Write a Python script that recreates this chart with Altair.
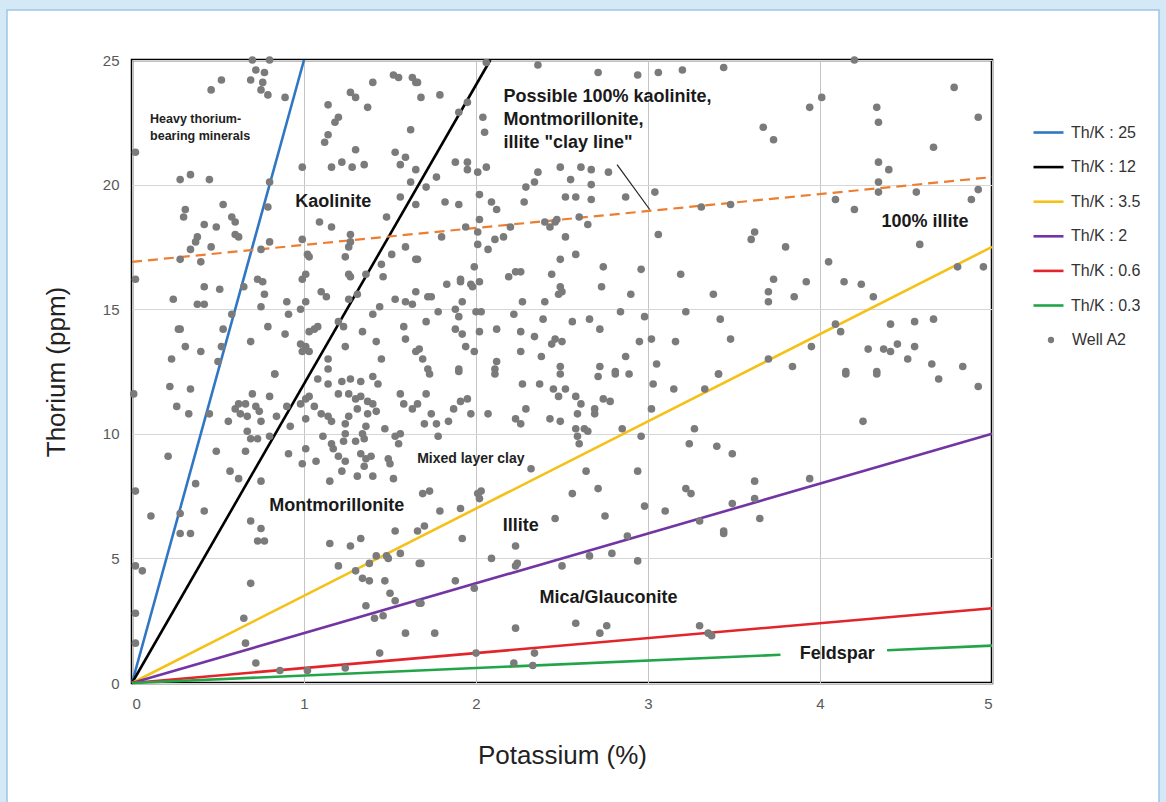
import altair as alt
import pandas as pd

# ---------------- data ----------------
ratio_names = ["Th/K : 25", "Th/K : 12", "Th/K : 3.5", "Th/K : 2", "Th/K : 0.6", "Th/K : 0.3"]
ratio_values = [25, 12, 3.5, 2, 0.6, 0.3]
ratio_colors = ["#2f77c4", "#000000", "#f6c117", "#7335a4", "#e2242b", "#22a548"]
feldspar_gap = [3.77, 4.39]

clay_k = [0.0, 5.0]
clay_th = [16.9, 20.3]
leader_k = [2.82, 3.01]
leader_th = [20.8, 19.0]

well_k = [
    0.70, 0.80, 0.52, 0.46, 0.69, 0.72, 0.77, 0.76, 0.75, 0.79, 0.89, 0.34, 0.28, 0.45, 0.02, 0.80,
    0.79, 0.31, 0.53, 0.99, 1.16, 1.22, 1.28, 1.35, 1.30, 1.14, 1.20, 1.18, 1.14, 1.12, 1.27, 1.30,
    1.37, 1.40, 1.52, 1.55, 1.63, 1.65, 1.62, 1.53, 1.59, 1.56, 1.65, 1.62, 1.56, 1.65,
    2.06, 2.36, 2.71, 2.94, 3.06, 3.20, 1.66, 1.68, 1.79, 1.90, 1.95, 2.04, 2.05, 1.88, 1.95, 1.95,
    2.01, 2.06, 1.77, 1.71, 1.82, 1.90, 2.02, 2.09, 2.12, 2.28, 2.29, 2.34, 2.36, 2.49, 2.55, 2.61,
    2.67, 2.77, 2.67, 2.52, 2.58, 2.67, 2.87, 3.04, 3.31,
    3.44, 4.20, 3.94, 4.01, 3.67, 3.73, 4.33, 4.34, 4.78, 4.92, 4.66, 4.34, 4.40, 4.34, 4.34, 4.56,
    4.92, 4.09, 4.20, 3.48, 4.88,
    0.30, 0.42, 0.49, 0.58, 0.60, 0.60, 0.62, 0.38, 0.37, 0.34, 0.46, 0.28, 0.40, 0.02, 0.75, 0.80,
    0.99, 1.02, 1.03, 1.09, 1.16, 1.24, 1.26, 1.27, 1.27, 1.26, 1.27, 1.36, 1.45, 1.46, 1.51, 1.48,
    1.59, 1.65, 0.42, 0.51, 0.65, 0.73, 0.76, 0.77, 0.24, 0.38, 0.42, 0.75, 0.90, 0.91, 0.58, 0.99,
    1.01, 0.98, 1.01, 1.10, 1.13, 1.20, 1.26, 1.31, 1.40, 1.44, 1.53, 1.59, 1.63, 1.65, 0.27, 0.28,
    0.53, 0.79, 0.89, 0.69, 1.06, 1.08, 1.03, 1.23, 1.34, 1.58, 1.59, 1.42, 0.31, 0.40, 0.23, 0.52,
    0.50, 0.98, 1.01, 1.03, 0.99, 1.24, 1.14, 1.45, 1.65, 1.14, 0.83,
    2.02, 2.01, 2.01, 1.94, 1.80, 2.07, 2.11, 2.16, 2.20, 2.40, 2.43, 2.46, 2.47, 2.60, 2.65, 2.52,
    2.58, 2.49, 2.44, 2.74, 2.73, 2.96, 3.06, 3.19, 1.66, 1.99, 2.19, 2.23, 2.26, 1.83, 1.91, 1.91,
    1.97, 1.98, 2.02, 1.72, 1.74, 1.92, 2.49, 2.50, 2.48, 2.90, 2.27, 2.40, 1.78, 1.88, 1.90, 2.00,
    2.03, 2.22, 2.39, 2.56, 2.66, 2.84, 2.98, 3.22, 1.71, 1.88, 1.92, 2.02, 2.12, 2.26, 2.34, 2.44,
    2.46, 2.50, 2.72, 1.94, 1.99, 2.26, 2.38, 1.67, 1.69, 1.72, 1.90, 2.12, 2.11, 2.49, 2.72, 2.81,
    2.87, 2.95, 3.02, 3.16, 3.05,
    3.62, 3.60, 3.80, 4.05, 4.58, 3.73, 3.70, 3.70, 3.38, 3.85, 3.92, 4.14, 4.24, 4.31, 4.80, 4.95,
    3.42, 3.48, 3.95, 4.09, 4.12, 4.41, 4.55, 4.66, 3.70, 3.84, 4.28, 4.37, 4.41, 4.45, 4.55, 4.51,
    4.65, 4.83, 3.41, 4.15, 4.33,
    0.22, 0.34, 0.26, 0.33, 0.45, 0.01, 0.83, 0.70, 0.80, 0.62, 0.66, 0.72, 0.60, 0.74, 0.63, 0.67,
    0.56, 0.84, 0.90, 0.92, 0.75, 0.67, 0.69, 0.73, 0.80, 1.01, 1.03, 0.98, 1.06, 1.10, 1.14, 1.01,
    1.08, 1.14, 1.22, 1.27, 1.33, 1.40, 1.43, 1.20, 1.26, 1.30, 1.33, 1.37, 1.40, 1.42, 1.31, 1.37,
    1.26, 1.24, 1.16, 1.56, 1.58, 1.63, 1.47, 1.36, 1.34, 1.35, 1.24, 1.11, 1.16, 1.17, 1.23, 1.30,
    1.53, 1.56, 1.55, 0.91, 1.01, 1.07, 0.99, 1.20, 1.24, 1.33, 1.36, 1.39, 1.35, 1.22, 1.31, 1.40,
    1.52, 1.49, 1.50, 0.21, 0.49, 0.66, 0.57, 0.62, 0.37, 0.02, 1.15, 0.75, 0.11, 0.28, 0.42, 0.69,
    0.75,
    1.73, 1.90, 2.11, 2.49, 2.71, 2.81, 2.89, 1.71, 1.66, 1.74, 1.70, 1.77, 1.84, 1.87, 1.91, 1.95,
    1.97, 1.78, 2.07, 2.27, 2.37, 2.45, 2.48, 2.52, 2.58, 2.61, 2.69, 2.69, 2.74, 2.78, 2.29, 2.23,
    2.26, 2.43, 2.49, 2.59, 2.58, 2.59, 2.60, 2.63, 2.65, 2.85, 2.96, 3.03, 3.15, 3.33, 3.02, 3.27,
    3.24, 2.64, 2.94, 2.32, 2.71, 2.56, 2.98, 3.10, 3.22, 3.25, 2.75, 2.46, 2.01, 2.02, 2.03, 1.69,
    1.73, 1.79, 1.91, 1.70, 3.30,
    3.41, 4.15, 4.33, 4.69, 4.92, 4.25, 3.40, 3.49, 3.62, 3.94, 3.49, 3.62, 3.65, 3.44,
    0.28, 0.34, 0.73, 0.77, 0.02, 0.06, 0.69, 0.02, 0.65, 0.02, 0.66, 0.72, 0.86, 1.02, 1.24, 1.15,
    1.27, 1.33, 1.53, 1.20, 1.38, 1.42, 1.48, 1.49, 1.56, 1.66, 1.30, 1.34, 1.38, 1.47, 1.50, 1.53,
    1.36, 1.41, 1.46, 1.59, 1.44, 1.67, 1.67,
    1.92, 2.23, 1.68, 2.09, 2.24, 2.23, 1.88, 1.99, 1.68, 2.50, 2.66, 2.79, 2.88, 2.94, 1.76, 2.23,
    2.58, 2.72, 2.76, 3.30, 3.35, 2.00, 2.34, 2.22, 2.33, 3.37, 3.44,
]
well_th = [
    25.0, 25.0, 24.2, 23.8, 24.2, 24.6, 24.5, 24.1, 23.8, 23.6, 23.5, 20.4, 20.2, 20.2, 21.3, 20.1,
    19.1, 19.0, 19.2, 20.7, 20.7, 20.9, 20.7, 20.8, 21.4, 23.2, 22.7, 22.5, 22.0, 21.7, 23.7, 23.5,
    23.1, 24.1, 24.4, 24.3, 24.3, 24.1, 22.2, 21.3, 21.1, 20.8, 20.6, 20.1, 19.5, 19.2,
    24.9, 24.8, 24.5, 24.4, 24.5, 24.6, 24.1, 23.5, 23.6, 22.9, 23.3, 22.7, 22.1, 20.9, 20.9, 20.6,
    20.5, 20.7, 20.3, 19.9, 19.3, 19.2, 19.6, 19.3, 19.0, 19.3, 19.9, 20.1, 20.5, 20.7, 20.2, 20.7,
    20.6, 20.5, 20.0, 19.5, 19.5, 19.4, 19.5, 19.7, 19.1,
    24.7, 25.0, 23.1, 23.5, 22.3, 21.8, 23.1, 22.5, 23.9, 22.7, 21.5, 20.9, 20.6, 20.1, 19.7, 19.7,
    19.8, 19.4, 19.0, 19.2, 19.4,
    18.7, 18.4, 18.3, 18.7, 18.5, 18.0, 17.9, 17.9, 17.7, 17.4, 17.5, 17.0, 16.9, 16.2, 17.4, 17.7,
    17.8, 17.2, 17.1, 18.5, 18.3, 17.1, 17.5, 18.0, 17.7, 16.4, 16.3, 16.4, 16.8, 16.3, 17.2, 18.7,
    17.5, 17.0, 15.9, 15.8, 15.9, 16.2, 16.1, 15.6, 15.4, 15.2, 15.2, 15.1, 15.3, 14.8, 14.8, 16.2,
    16.4, 15.0, 15.3, 15.7, 15.5, 14.5, 15.4, 15.6, 14.8, 15.1, 15.4, 15.3, 15.2, 15.7, 14.2, 14.2,
    14.2, 14.3, 14.0, 13.7, 14.2, 14.3, 14.1, 14.3, 14.1, 14.3, 13.8, 13.7, 13.5, 13.3, 13.0, 13.5,
    12.9, 13.6, 13.5, 13.3, 13.3, 13.5, 13.0, 13.0, 13.3, 12.6, 12.4,
    18.6, 18.1, 17.6, 18.3, 17.9, 17.4, 17.8, 17.9, 18.3, 18.5, 18.3, 18.5, 18.6, 18.7, 18.4, 17.9,
    17.2, 17.0, 16.4, 16.7, 15.9, 16.6, 18.0, 16.4, 17.0, 16.7, 16.3, 16.5, 16.5, 16.0, 16.2, 16.1,
    16.0, 15.9, 16.1, 15.5, 15.5, 15.3, 15.9, 15.7, 15.6, 15.6, 15.3, 15.3, 14.9, 15.0, 14.7, 14.9,
    14.9, 14.8, 14.6, 14.5, 14.6, 14.9, 14.7, 14.9, 14.5, 14.2, 14.0, 14.1, 14.2, 14.1, 13.9, 13.6,
    13.8, 13.7, 14.2, 13.5, 13.3, 13.3, 13.1, 13.4, 13.0, 12.6, 12.6, 12.9, 12.6, 12.7, 12.7, 12.5,
    13.1, 13.7, 13.8, 13.7, 12.8,
    18.1, 17.8, 17.5, 16.9, 17.6, 16.2, 15.7, 15.3, 15.6, 15.5, 16.1, 16.1, 16.0, 15.5, 16.7, 16.7,
    14.6, 13.8, 13.5, 14.4, 14.1, 14.4, 14.5, 14.6, 13.0, 12.7, 13.4, 13.4, 13.3, 13.6, 13.5, 13.0,
    12.8, 12.7, 12.4, 12.5, 12.5,
    11.9, 11.8, 11.1, 10.8, 10.8, 11.6, 12.4, 11.6, 11.5, 11.2, 11.2, 11.1, 11.0, 10.9, 10.8, 10.7,
    10.5, 10.7, 11.1, 10.3, 10.5, 10.1, 9.8, 9.8, 9.9, 11.4, 11.5, 11.2, 11.1, 10.8, 10.7, 10.6,
    12.2, 12.0, 12.1, 12.2, 12.1, 12.3, 12.0, 11.6, 11.6, 11.4, 11.5, 11.3, 11.2, 10.9, 11.0, 10.8,
    10.7, 10.4, 10.5, 11.6, 11.2, 11.0, 10.2, 10.3, 10.0, 9.8, 10.0, 9.9, 9.6, 9.4, 9.7, 9.7,
    9.9, 10.0, 9.6, 9.2, 9.4, 8.9, 8.8, 9.1, 8.9, 9.2, 9.0, 9.1, 8.7, 8.5, 8.3, 8.3,
    8.2, 9.0, 8.8, 9.1, 9.3, 9.3, 8.5, 8.2, 8.0, 7.7, 8.1, 8.1, 6.7, 6.8, 6.9, 6.5,
    6.2,
    12.4, 12.5, 12.4, 12.4, 12.3, 12.4, 12.4, 11.6, 11.2, 10.8, 10.4, 10.4, 10.5, 11.0, 11.3, 11.4,
    10.8, 9.9, 10.8, 12.0, 12.0, 11.8, 11.5, 11.8, 11.5, 11.2, 11.0, 10.8, 11.4, 11.3, 11.0, 10.6,
    10.4, 10.6, 10.5, 10.8, 10.2, 9.9, 9.6, 10.2, 10.1, 10.2, 9.9, 12.0, 11.8, 11.8, 11.0, 10.2,
    9.6, 8.5, 8.5, 8.6, 7.8, 7.6, 7.1, 6.9, 7.8, 7.6, 6.7, 6.6, 7.6, 7.4, 7.7, 7.6,
    7.7, 6.9, 7.0, 6.3, 6.5,
    12.4, 12.4, 12.4, 12.2, 11.9, 10.5, 9.5, 9.2, 8.1, 8.2, 7.2, 7.4, 6.6, 6.1,
    6.0, 6.0, 5.7, 5.7, 4.7, 4.5, 4.0, 2.8, 2.6, 1.6, 1.6, 0.8, 0.5, 0.5, 0.6, 5.6,
    5.5, 5.8, 6.1, 4.7, 4.8, 5.1, 5.1, 5.0, 5.2, 6.1, 4.5, 4.2, 4.1, 4.1, 3.6, 3.3,
    3.1, 2.6, 2.7, 2.0, 1.2, 4.8, 3.2,
    5.8, 5.5, 4.8, 5.0, 4.8, 4.7, 4.1, 3.8, 3.2, 4.7, 5.1, 5.2, 5.9, 4.9, 2.0, 2.2,
    2.4, 2.0, 2.3, 2.3, 2.0, 1.2, 1.2, 0.8, 0.7, 1.9, 6.0,
]

label_text = ["Kaolinite", "100% illite", "Montmorillonite", "Illite", "Mica/Glauconite", "Feldspar"]
label_k = [1.17, 4.61, 1.19, 2.26, 2.77, 4.10]
label_th = [19.3, 18.5, 7.1, 6.3, 3.4, 1.16]

note_text = ["Possible 100% kaolinite,", "Montmorillonite,", "illite \"clay line\""]
note_k = [2.16, 2.16, 2.16]
note_th = [23.52, 22.6, 21.67]

small_text = ["Heavy thorium-", "bearing minerals", "Mixed layer clay"]
small_k = [0.105, 0.105, 1.97]
small_th = [22.63, 21.95, 9.0]
small_align = ["left", "left", "center"]

x_ticks = [0, 1, 2, 3, 4, 5]
y_ticks = [0, 5, 10, 15, 20, 25]

FONT = "Liberation Sans"

# ---------------- tables ----------------
rows = []
for name, r in zip(ratio_names, ratio_values):
    x_end = min(5.0, 25.0 / r)
    if name == "Th/K : 0.3":
        rows += [
            dict(name=name, seg=name + "a", k=0.0, th=0.0),
            dict(name=name, seg=name + "a", k=feldspar_gap[0], th=r * feldspar_gap[0]),
            dict(name=name, seg=name + "b", k=feldspar_gap[1], th=r * feldspar_gap[1]),
            dict(name=name, seg=name + "b", k=x_end, th=r * x_end),
        ]
    else:
        rows += [
            dict(name=name, seg=name, k=0.0, th=0.0),
            dict(name=name, seg=name, k=x_end, th=r * x_end),
        ]
lines_df = pd.DataFrame(rows)
clay_df = pd.DataFrame({"k": clay_k, "th": clay_th})
leader_df = pd.DataFrame({"k": leader_k, "th": leader_th})
well_df = pd.DataFrame({"k": well_k, "th": well_th, "src": "Well A2"})
label_df = pd.DataFrame({"t": label_text, "k": label_k, "th": label_th})
note_df = pd.DataFrame({"t": note_text, "k": note_k, "th": note_th})
small_df = pd.DataFrame({"t": small_text, "k": small_k, "th": small_th, "a": small_align})

x_enc = alt.X(
    "k:Q",
    scale=alt.Scale(domain=[0, 5], nice=False, zero=True),
    axis=alt.Axis(
        values=x_ticks, title="Potassium (%)", grid=True, gridColor="#c4c4c4", gridWidth=1,
        domain=False, ticks=False, labelFont=FONT, labelFontSize=15, labelColor="#595959",
        labelPadding=13, titleFont=FONT, titleFontSize=26, titleFontWeight="normal",
        titleColor="#222222", titlePadding=31,
    ),
)
y_enc = alt.Y(
    "th:Q",
    scale=alt.Scale(domain=[0, 25], nice=False, zero=True),
    axis=alt.Axis(
        values=y_ticks, title="Thorium (ppm)", grid=True, gridColor="#d6d6d6", gridWidth=1.2,
        domain=False, ticks=False, labelFont=FONT, labelFontSize=15, labelColor="#595959",
        labelPadding=13, titleFont=FONT, titleFontSize=26, titleFontWeight="normal",
        titleColor="#222222", titlePadding=33,
    ),
)

one_row = pd.DataFrame({"a": [0]})
# light-blue outer band of the page frame (stroke only, so axes and grid stay visible)
frame_band = alt.Chart(one_row).mark_rect(
    fillOpacity=0, stroke="#d5e8f6", strokeWidth=20
).encode(x=alt.value(-135), x2=alt.value(1037), y=alt.value(-60), y2=alt.value(755))
frame_line = alt.Chart(one_row).mark_rect(
    fillOpacity=0, stroke="#9cc6e8", strokeWidth=1.5
).encode(x=alt.value(-125), x2=alt.value(1027), y=alt.value(-50), y2=alt.value(760))

ratio_lines = alt.Chart(lines_df).mark_line(strokeWidth=2.6).encode(
    x=x_enc, y=y_enc,
    color=alt.Color(
        "name:N",
        scale=alt.Scale(domain=ratio_names, range=ratio_colors),
        legend=alt.Legend(
            title=None, orient="none", legendX=900, legendY=56, symbolType="stroke",
            symbolStrokeWidth=2.6, symbolSize=900, rowPadding=9.6, labelFont=FONT,
            labelFontSize=16, labelColor="#333333", labelOffset=6, padding=0,
        ),
    ),
    detail="seg:N",
)

clay = alt.Chart(clay_df).mark_line(
    color="#ed7d31", strokeWidth=2.2, strokeDash=[10, 6]
).encode(x=x_enc, y=y_enc)

leader = alt.Chart(leader_df).mark_line(color="#222222", strokeWidth=1.2).encode(x=x_enc, y=y_enc)

points = alt.Chart(well_df).mark_point(
    filled=True, size=58, color="#7b7b7b", opacity=1
).encode(
    x=x_enc, y=y_enc,
    shape=alt.Shape(
        "src:N",
        scale=alt.Scale(domain=["Well A2"], range=["circle"]),
        legend=alt.Legend(
            title=None, orient="none", legendX=911, legendY=272, symbolSize=40,
            symbolFillColor="#7b7b7b", symbolStrokeWidth=0, labelFont=FONT, labelFontSize=16,
            labelColor="#333333", labelOffset=13, padding=0,
        ),
    ),
)

labels = alt.Chart(label_df).mark_text(
    font=FONT, fontSize=18, fontWeight="bold", color="#1a1a1a", align="center", baseline="middle"
).encode(x=x_enc, y=y_enc, text="t:N")

notes = alt.Chart(note_df).mark_text(
    font=FONT, fontSize=18, fontWeight="bold", color="#1a1a1a", align="left", baseline="middle"
).encode(x=x_enc, y=y_enc, text="t:N")

small_left = alt.Chart(small_df[small_df["a"] == "left"]).mark_text(
    font=FONT, fontSize=12.5, fontWeight="bold", color="#222222", align="left", baseline="middle"
).encode(x=x_enc, y=y_enc, text="t:N")

small_center = alt.Chart(small_df[small_df["a"] == "center"]).mark_text(
    font=FONT, fontSize=14, fontWeight="bold", color="#222222", align="center", baseline="middle"
).encode(x=x_enc, y=y_enc, text="t:N")

chart = alt.layer(
    frame_band, frame_line, ratio_lines, clay, leader, points, labels, notes, small_left, small_center
).resolve_legend(color="independent", shape="independent").properties(
    width=860, height=623,
    autosize=alt.AutoSizeParams(type="none"),
    padding={"left": 132, "top": 60, "right": 174, "bottom": 119},
    background="#ffffff",
).configure_view(stroke="#000000", strokeWidth=2.5)

chart.save("out.html", embed_options={"renderer": "svg", "actions": False})
